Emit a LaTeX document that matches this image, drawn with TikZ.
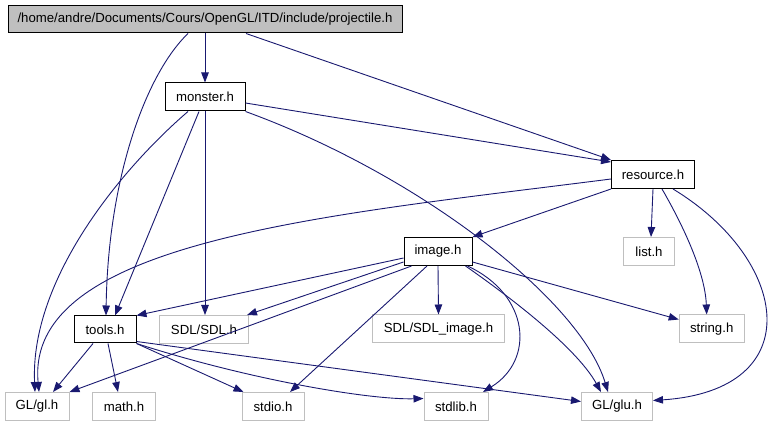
\documentclass[tikz,border=0pt]{standalone}
\usepackage{fontspec}
\setmainfont{Liberation Sans}
\usetikzlibrary{arrows.meta}
\definecolor{edgeblue}{HTML}{191970}
\definecolor{boxgray}{HTML}{BFBFBF}
\definecolor{hdrgray}{HTML}{BFBFBF}
\tikzset{
  filebox/.style={draw=black, line width=1pt, fill=white, inner sep=0pt, minimum height=28pt, font=\fontsize{13.2}{15}\selectfont},
  hdrbox/.style={filebox, fill=hdrgray},
  sysbox/.style={draw=boxgray, line width=1pt, inner sep=0pt, minimum height=28pt, font=\fontsize{13.2}{15}\selectfont},
  edge/.style={draw=edgeblue, line width=0.9pt, -{Triangle[length=10pt,width=7.5pt]}, fill=none},
}
\begin{document}
\begin{tikzpicture}[x=1pt,y=-1pt]
\useasboundingbox (0,0) rectangle (771,427);
% nodes
\node[hdrbox, minimum width=394pt, minimum height=27pt] (proj) at (205,19.5) {/home/andre/Documents/Cours/OpenGL/ITD/include/projectile.h};
\node[filebox, minimum width=80pt] (monster) at (205,97) {monster.h};
\node[filebox, minimum width=83pt] (resource) at (653,174.5) {resource.h};
\node[filebox, minimum width=68pt] (image) at (438,251.5) {image.h};
\node[sysbox, minimum width=51pt] (list) at (649,251.5) {list.h};
\node[filebox, minimum width=62pt, minimum height=27pt] (tools) at (105,329.5) {tools.h};
\node[sysbox, minimum width=89pt] (sdl) at (204,329.5) {SDL/SDL.h};
\node[sysbox, minimum width=132pt] (sdlimg) at (438.5,329) {SDL/SDL\_image.h};
\node[sysbox, minimum width=65pt] (string) at (711.7,329) {string.h};
\node[sysbox, minimum width=64pt] (gl) at (37,406.5) {GL/gl.h};
\node[sysbox, minimum width=63pt] (math) at (124,406.5) {math.h};
\node[sysbox, minimum width=62pt] (stdio) at (273,406.5) {stdio.h};
\node[sysbox, minimum width=64pt] (stdlib) at (456,406.5) {stdlib.h};
\node[sysbox, minimum width=71pt] (glu) at (617,406.5) {GL/glu.h};
% projectile.h
\draw[edge] (proj.south) -- (monster.north);
\draw[edge] ([xshift=-17pt]proj.south) .. controls (145,75) and (108,180) .. ([xshift=1pt]tools.north);
\draw[edge] ([xshift=41pt]proj.south) -- (resource.north west);
% monster.h
\draw[edge] ([yshift=-6pt]monster.east) -- ([yshift=-2pt]resource.north west);
\draw[edge] (monster.south east) .. controls (420,175) and (580,300) .. ([xshift=-9pt]glu.north);
\draw[edge] ([xshift=-17pt]monster.south) .. controls (120,170) and (30,280) .. ([xshift=-2pt]gl.north);
\draw[edge] ([xshift=-6pt]monster.south) -- ([xshift=10pt]tools.north);
\draw[edge] (monster.south) -- (monster.south |- sdl.north);
% resource.h
\draw[edge] (resource.south west) -- (image.north east);
\draw[edge] (resource.south) -- ([xshift=2pt]list.north);
\draw[edge] ([xshift=9pt]resource.south) .. controls (680,220) and (705,270) .. ([xshift=-5pt]string.north);
\draw[edge] ([xshift=20pt]resource.south) .. controls (790,260) and (810,390) .. ([yshift=6pt]glu.east);
\draw[edge] ([yshift=-4.5pt]resource.west) .. controls (330,215) and (25,240) .. ([xshift=2pt]gl.north);
% image.h
\draw[edge] ([yshift=-6.5pt]image.west) -- (tools.north east);
\draw[edge] ([yshift=-10.5pt]image.west) -- ([xshift=43pt]sdl.north);
\draw[edge] (image.south) -- (sdlimg.north);
\draw[edge] ([yshift=-10.5pt]image.east) -- ([yshift=-5pt]string.north west);
\draw[edge] ([xshift=-7pt]image.south east) .. controls (500,290) and (575,345) .. ([xshift=-16pt]glu.north);
\draw[edge] ([xshift=-5pt]image.south east) .. controls (530,295) and (535,360) .. ([xshift=27pt]stdlib.north);
\draw[edge] ([xshift=-11pt]image.south) -- ([xshift=17pt]stdio.north);
\draw[edge] ([xshift=8pt]image.south west) -- (gl.north east);
% tools.h
\draw[edge] ([xshift=-12pt]tools.south) -- ([xshift=16pt]gl.north);
\draw[edge] ([xshift=3pt]tools.south) -- ([xshift=-6pt]math.north);
\draw[edge] (tools.south east) -- ([xshift=2pt]stdio.north west);
\draw[edge] (tools.south east) .. controls (250,380) and (370,400) .. ([yshift=8pt]stdlib.west);
\draw[edge] ([yshift=-12pt]tools.east) -- ([yshift=5pt]glu.west);
\end{tikzpicture}
\end{document}
